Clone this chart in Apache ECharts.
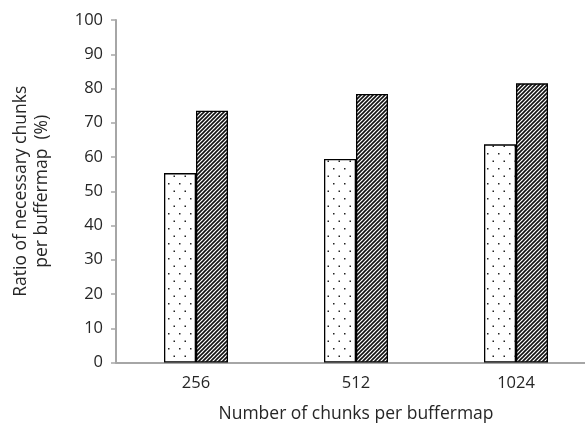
<!DOCTYPE html>
<html>
<head>
<meta charset="utf-8">
<script src="https://cdn.jsdelivr.net/npm/echarts@6/dist/echarts.min.js"></script>
<style>
  html, body { margin: 0; padding: 0; background: #fff; }
  #chart { width: 585px; height: 429px; }
</style>
</head>
<body>
<div id="chart"></div>
<script>
// Chunk counts per buffermap and the two measured ratios (%)
const categories = ['256', '512', '1024'];
const dottedSeries = [55.3, 59.4, 63.7];
const hatchedSeries = [73.5, 78.4, 81.5];
const yTicks = { min: 0, max: 100, interval: 10 };

// Sparse staggered dot fill
function dotPattern() {
  const w = 11, h = 15;
  const c = document.createElement('canvas');
  c.width = w; c.height = h;
  const g = c.getContext('2d');
  g.fillStyle = '#fff';
  g.fillRect(0, 0, w, h);
  g.fillStyle = '#222';
  g.fillRect(3, 3, 1.5, 1.5);
  g.fillRect(8.5, 10.5, 1.5, 1.5);
  return c;
}

// Dense forward-slash hatching
function hatchPattern() {
  const n = 4;
  const c = document.createElement('canvas');
  c.width = n; c.height = n;
  const g = c.getContext('2d');
  g.fillStyle = '#fff';
  g.fillRect(0, 0, n, n);
  g.strokeStyle = '#111';
  g.lineWidth = 1.6;
  g.beginPath();
  g.moveTo(-1, n + 1); g.lineTo(n + 1, -1);
  g.moveTo(-1, 1); g.lineTo(1, -1);
  g.moveTo(n - 1, n + 1); g.lineTo(n + 1, n - 1);
  g.stroke();
  return c;
}

const chart = echarts.init(document.getElementById('chart'), null, { renderer: 'canvas' });
const font = '"Open Sans", "Noto Sans", sans-serif';

chart.setOption({
  animation: false,
  backgroundColor: '#fff',
  grid: {
    left: 116, top: 20, width: 480, height: 342.5,
    containLabel: false,
    outerBoundsMode: 'none'
  },
  xAxis: {
    type: 'category',
    data: categories,
    axisLine: { lineStyle: { color: '#a6a6a6', width: 2 } },
    axisTick: { show: false },
    axisLabel: { color: '#262626', fontSize: 16.5, fontFamily: font, margin: 12 },
    name: 'Number of chunks per buffermap',
    nameLocation: 'middle',
    nameGap: 43,
    nameTextStyle: { color: '#262626', fontSize: 17.5, fontFamily: font }
  },
  yAxis: {
    type: 'value',
    min: yTicks.min,
    max: yTicks.max,
    interval: yTicks.interval,
    splitLine: { show: false },
    axisLine: { show: true, lineStyle: { color: '#a6a6a6', width: 2 } },
    axisTick: { show: true, length: 5, lineStyle: { color: '#a6a6a6', width: 1.5 } },
    axisLabel: { color: '#262626', fontSize: 16.5, fontFamily: font, margin: 13 },
    name: 'Ratio of necessary chunks\nper buffermap  (%)',
    nameLocation: 'middle',
    nameRotate: 90,
    nameGap: 63,
    nameTextStyle: { color: '#262626', fontSize: 17.5, fontFamily: font, lineHeight: 21 }
  },
  series: [
    {
      type: 'bar',
      data: dottedSeries,
      barWidth: 32,
      barGap: '0%',
      itemStyle: {
        color: { image: dotPattern(), repeat: 'repeat' },
        borderColor: '#000',
        borderWidth: 1.3
      }
    },
    {
      type: 'bar',
      data: hatchedSeries,
      barWidth: 32,
      barGap: '0%',
      itemStyle: {
        color: { image: hatchPattern(), repeat: 'repeat' },
        borderColor: '#000',
        borderWidth: 1.3
      }
    }
  ]
});
</script>
</body>
</html>
